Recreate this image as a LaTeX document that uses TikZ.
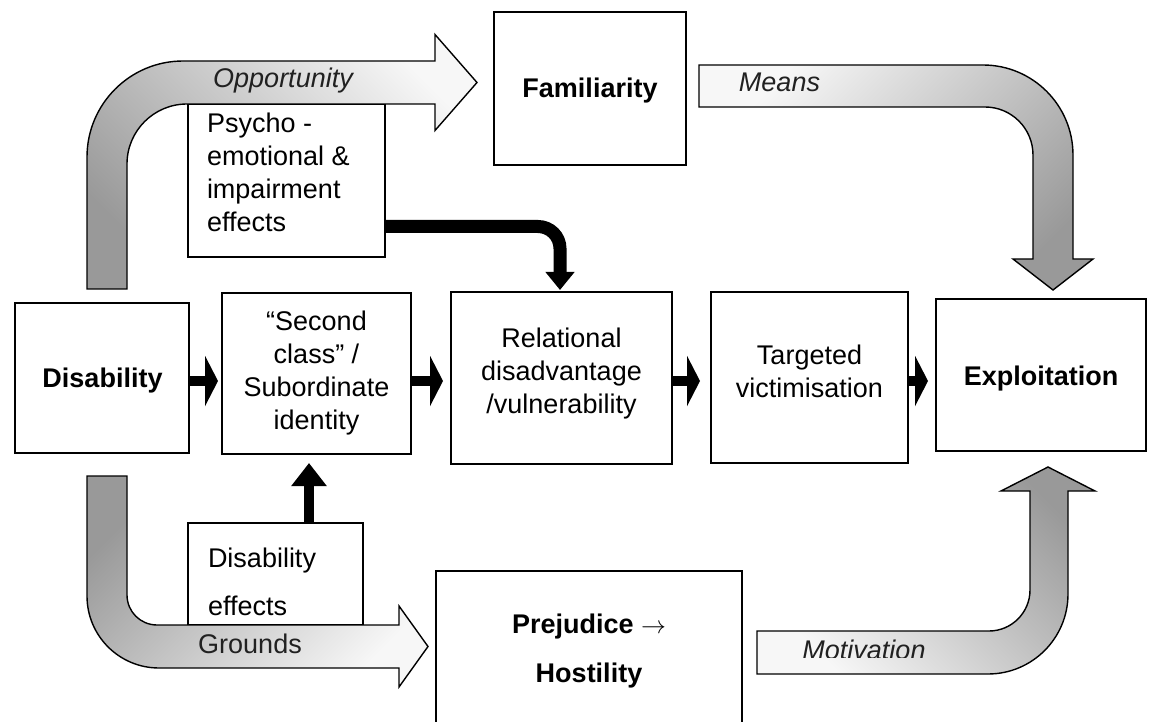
\documentclass[tikz,border=0pt]{standalone}
\usepackage{fontspec}
\setmainfont{Liberation Sans}
\usetikzlibrary{arrows.meta}
\definecolor{shadedark}{gray}{0.6}
\definecolor{shadelight}{gray}{0.97}
\definecolor{labelgray}{gray}{0.13}
\begin{document}
\begin{tikzpicture}[x=1pt, y=-1pt,
  every node/.style={inner sep=0pt, outer sep=0pt, font=\fontsize{27}{33}\selectfont},
  box/.style={draw=black, line width=1.6pt, fill=white, rectangle},
  % multi-line texts are placed by the baseline of their last line
  ctext/.style={align=center, anchor=base},
  ltext/.style={align=left, anchor=base west},
  boldtext/.style={font=\fontsize{27}{33}\selectfont\bfseries},
  flowlabel/.style={anchor=base, text=labelgray},
  bigarrow/.style={draw=black, line width=1.4pt, line join=miter},
  link/.style={draw=black, line width=10pt, -{Triangle[length=13pt, width=50pt]}},
]
\useasboundingbox (0,0) rectangle (1152,722);
\clip (0,0) rectangle (1152,722);

% ---- boxes ----
\node[box, minimum width=174pt, minimum height=150pt] (dis)  at (102,378)     {};
\node[box, minimum width=189pt, minimum height=161pt] (sec)  at (316.5,373.5) {};
\node[box, minimum width=221pt, minimum height=172pt] (rel)  at (561.5,378)   {};
\node[box, minimum width=197pt, minimum height=171pt] (tar)  at (809.5,377.5) {};
\node[box, minimum width=210pt, minimum height=152pt] (exp)  at (1041,375)    {};
\node[box, minimum width=192pt, minimum height=153pt] (fam)  at (590,88.5)    {};
\node[box, minimum width=197pt, minimum height=153pt] (psy)  at (286.5,180.5) {};
\node[box, minimum width=175pt, minimum height=102pt] (deff) at (275.5,574)   {};
\node[box, minimum width=306pt, minimum height=189pt] (pre)  at (589,665.5)   {};

% ---- box texts ----
\node[ctext, boldtext] (tdis) at (102.5,387) {Disability};
\node[ctext] (tsec) at (316.5,429) {“Second\\class” /\\Subordinate\\identity};
\node[ctext] (trel) at (561.5,413) {Relational\\disadvantage\\/vulnerability};
\node[ctext] (ttar) at (809.5,397) {Targeted\\victimisation};
\node[ctext, boldtext] (texp) at (1041,385) {Exploitation};
\node[ctext, boldtext] (tfam) at (590,98) {Familiarity};
\node[ltext] (tpsy) at (207,232) {Psycho -\\emotional \&\\impairment\\effects};
\node[ltext] (tdeff) at (208,615) {Disability\\[15pt]effects};
\node[ctext, boldtext] (tpre) at (589,682) {Prejudice $\rightarrow$\\[16pt]Hostility};

% ---- broad shaded flow arrows ----
% Opportunity: from Disability up and over to Familiarity
\path[bigarrow, top color=shadelight, bottom color=shadedark, shading angle=-45]
  (87,289) -- (87,157) .. controls (87,104) and (130,61) .. (183,61)
  -- (435,61) -- (435,34.5) -- (477,82.5) -- (435,130.5) -- (435,104)
  -- (187,104) .. controls (153.9,104) and (127,130.9) .. (127,164)
  -- (127,289) -- cycle;
% Means: from Familiarity over and down to Exploitation
\path[bigarrow, top color=shadelight, bottom color=shadedark, shading angle=45]
  (699,65) -- (983,65) .. controls (1032.7,65) and (1073,105.3) .. (1073,155)
  -- (1073,259) -- (1093,259) -- (1053,290) -- (1013,259) -- (1033,259)
  -- (1033,155) .. controls (1033,128.5) and (1011.5,107) .. (985,107)
  -- (699,107) -- cycle;
% Grounds: from Disability down and across to Prejudice
\path[bigarrow, top color=shadedark, bottom color=shadelight, shading angle=45]
  (87,476) -- (87,596) .. controls (87,635.8) and (119.2,668) .. (159,668)
  -- (399,668) -- (399,687) -- (428,646.5) -- (399,606) -- (399,625)
  -- (157,625) .. controls (140.4,625) and (127,611.6) .. (127,595)
  -- (127,476) -- cycle;
% Motivation: from Prejudice across and up to Exploitation
\path[bigarrow, top color=shadedark, bottom color=shadelight, shading angle=-45]
  (757,631) -- (989,631) .. controls (1011.6,631) and (1030,612.6) .. (1030,590)
  -- (1030,491) -- (1001,491) -- (1048,467) -- (1095,491) -- (1068,491)
  -- (1068,594) .. controls (1068,638.2) and (1032.2,674) .. (988,674)
  -- (757,674) -- cycle;

% ---- flow labels ----
\node[flowlabel] (lopp) at (283,88) {\itshape Opportunity};
\node[flowlabel] (lmea) at (779.5,92) {\itshape Means};
\node[flowlabel] (lgro) at (250,653) {Grounds};
\begin{scope}
  \clip (757,620) rectangle (1000,657);
  \node[flowlabel] (lmot) at (864,659) {\itshape Motivation};
\end{scope}

% ---- black links ----
\coordinate (row) at (0,381);
\draw[link, shorten >=4pt]  (dis.east |- row) -- (sec.west |- row);
\draw[link, shorten >=8pt]  (sec.east |- row) -- (rel.west |- row);
\draw[link, shorten >=11pt] (rel.east |- row) -- (tar.west |- row);
\draw[link, shorten >=8pt]  (tar.east |- row) -- (exp.west |- row);

\coordinate (upx) at (309,0);
\draw[draw=black, line width=10pt, -{Triangle[length=23pt, width=34pt]}, shorten >=9pt]
  (upx |- deff.north) -- (upx |- sec.south);

\coordinate (bend) at (560,226.5);
\draw[draw=black, line width=13pt, rounded corners=22pt,
      -{Triangle[length=18pt, width=28pt]}, shorten >=2pt]
  (psy.east |- bend) -- (bend) -- (bend |- rel.north);
\end{tikzpicture}
\end{document}
